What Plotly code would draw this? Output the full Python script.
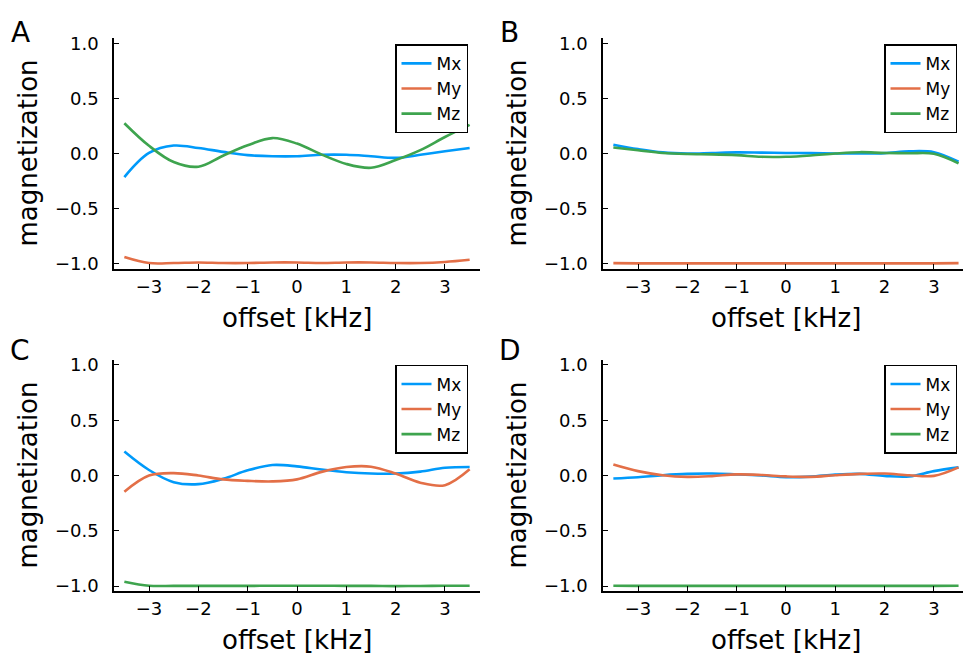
import plotly.graph_objects as go

# ---- data ----
offset_khz = [-3.5, -3.0, -2.5, -2.0, -1.5, -1.0, -0.5, 0.0, 0.5, 1.0, 1.5, 2.0, 2.5, 3.0, 3.5]

A_mx = [-0.214, 0.005, 0.072, 0.05, 0.015, -0.015, -0.025, -0.025, -0.012, -0.012, -0.025, -0.04, -0.012, 0.02, 0.05]
A_my = [-0.94, -0.995, -0.995, -0.99, -0.995, -0.995, -0.99, -0.99, -0.995, -0.99, -0.99, -0.995, -0.995, -0.985, -0.965]
A_mz = [0.275, 0.07, -0.078, -0.12, -0.02, 0.074, 0.14, 0.09, -0.01, -0.095, -0.13, -0.06, 0.03, 0.15, 0.26]

B_mx = [0.08, 0.04, 0.01, 0.0, 0.005, 0.01, 0.008, 0.005, 0.003, 0.0, 0.0, 0.003, 0.02, 0.012, -0.075]
B_my = [-0.996, -0.998, -0.998, -0.998, -0.998, -0.998, -0.998, -0.998, -0.998, -0.998, -0.998, -0.998, -0.998, -0.998, -0.996]
B_mz = [0.055, 0.03, 0.005, -0.005, -0.008, -0.015, -0.03, -0.03, -0.018, 0.0, 0.012, 0.005, 0.002, -0.003, -0.09]

C_mx = [0.217, 0.05, -0.06, -0.078, -0.03, 0.047, 0.095, 0.083, 0.054, 0.03, 0.018, 0.018, 0.035, 0.07, 0.077]
C_my = [-0.146, 0.0, 0.022, 0.0, -0.035, -0.048, -0.053, -0.035, 0.033, 0.077, 0.08, 0.018, -0.065, -0.087, 0.056]
C_mz = [-0.96, -0.997, -0.998, -0.998, -0.998, -0.998, -0.997, -0.997, -0.997, -0.998, -0.998, -1.0, -0.999, -0.997, -0.997]

D_mx = [-0.027, -0.015, 0.003, 0.015, 0.018, 0.01, 0.0, -0.015, -0.01, 0.008, 0.015, -0.003, -0.008, 0.04, 0.074]
D_my = [0.1, 0.04, 0.003, -0.012, -0.005, 0.01, 0.005, -0.008, -0.012, 0.003, 0.015, 0.018, 0.003, -0.003, 0.074]
D_mz = [-0.997, -0.998, -0.998, -0.998, -0.998, -0.998, -0.998, -0.998, -0.998, -0.998, -0.998, -0.998, -0.998, -0.998, -0.997]

series_names = ["Mx", "My", "Mz"]
panel_labels = ["A", "B", "C", "D"]
x_tickvals = [-3, -2, -1, 0, 1, 2, 3]
x_ticktext = ["\u22123", "\u22122", "\u22121", "0", "1", "2", "3"]
y_tickvals = [-1.0, -0.5, 0.0, 0.5, 1.0]
y_ticktext = ["\u22121.0", "\u22120.5", "0.0", "0.5", "1.0"]
x_title = "offset [kHz]"
y_title = "magnetization"

panels = [(A_mx, A_my, A_mz), (B_mx, B_my, B_mz), (C_mx, C_my, C_mz), (D_mx, D_my, D_mz)]

# ---- styling ----
W, H = 963, 659
colors = ["#009AFA", "#E36F47", "#3EA44E"]
FONT = "DejaVu Sans"

# pixel boxes of the plot areas: (left, right, top, bottom)
boxes = [(114, 480, 33, 267), (603, 963, 33, 267), (114, 480, 360, 595), (603, 963, 360, 595)]
x_ranges = [[-3.71, 3.71], [-3.71, 3.59], [-3.71, 3.71], [-3.71, 3.59]]
y_range = [-1.045, 1.045]

fig = go.Figure()
legend_names = ["legend", "legend2", "legend3", "legend4"]

for p, (series, box) in enumerate(zip(panels, boxes)):
    xa = "x" if p == 0 else f"x{p+1}"
    ya = "y" if p == 0 else f"y{p+1}"
    for name, vals, col in zip(series_names, series, colors):
        fig.add_trace(go.Scatter(
            x=offset_khz, y=vals, name=name, mode="lines",
            line=dict(color=col, width=2.6, shape="spline", smoothing=1.0),
            xaxis=xa, yaxis=ya, legend=legend_names[p], showlegend=True,
        ))

    l, r, t, b = box
    axis_common = dict(showline=True, linecolor="black", linewidth=1.5, mirror=False,
                       ticks="inside", ticklen=5, tickwidth=1, tickcolor="black",
                       showgrid=False, zeroline=False,
                       tickfont=dict(family=FONT, size=18, color="black"))
    xkey = "xaxis" if p == 0 else f"xaxis{p+1}"
    ykey = "yaxis" if p == 0 else f"yaxis{p+1}"
    fig.layout[xkey] = dict(domain=[l / W, r / W], range=x_ranges[p], anchor=ya,
                            tickvals=x_tickvals, ticktext=x_ticktext,
                            ticklabelstandoff=1, **axis_common)
    fig.layout[ykey] = dict(domain=[1 - b / H, 1 - t / H], range=y_range, anchor=xa,
                            tickvals=y_tickvals, ticktext=y_ticktext,
                            ticklabelstandoff=10, **axis_common)

    # legend box in the upper-right corner of each panel
    leg_right = 468 if p in (0, 2) else 957
    leg_top = 39 if p < 2 else 365
    fig.layout[legend_names[p]] = dict(
        x=leg_right / W, y=1 - leg_top / H, xanchor="right", yanchor="top",
        bgcolor="white", bordercolor="black", borderwidth=1.5,
        font=dict(family=FONT, size=17, color="black"),
        tracegroupgap=0, itemwidth=30,
    )

    cx = (l + (l + 366)) / 2
    cy = (t + b) / 2
    # axis titles
    fig.add_annotation(text=y_title, x=(28 if p in (0, 2) else 517) / W, y=1 - cy / H,
                       xref="paper", yref="paper", textangle=-90, showarrow=False,
                       xanchor="center", yanchor="middle",
                       font=dict(family=FONT, size=26, color="black"))
    fig.add_annotation(text=x_title, x=cx / W, y=1 - (b + 50) / H,
                       xref="paper", yref="paper", showarrow=False,
                       xanchor="center", yanchor="middle",
                       font=dict(family=FONT, size=26, color="black"))
    # panel letter
    fig.add_annotation(text=panel_labels[p], x=(20 if p in (0, 2) else 510) / W,
                       y=1 - (27 if p < 2 else 350) / H,
                       xref="paper", yref="paper", showarrow=False,
                       xanchor="center", yanchor="middle",
                       font=dict(family=FONT, size=28, color="black"))

fig.update_layout(width=W, height=H, margin=dict(l=0, r=0, t=0, b=0),
                  paper_bgcolor="white", plot_bgcolor="white",
                  font=dict(family=FONT, color="black"))

fig.write_html("out.html", config={"displayModeBar": False},
               post_script="document.body.style.margin='0px';document.body.style.overflow='hidden';")
